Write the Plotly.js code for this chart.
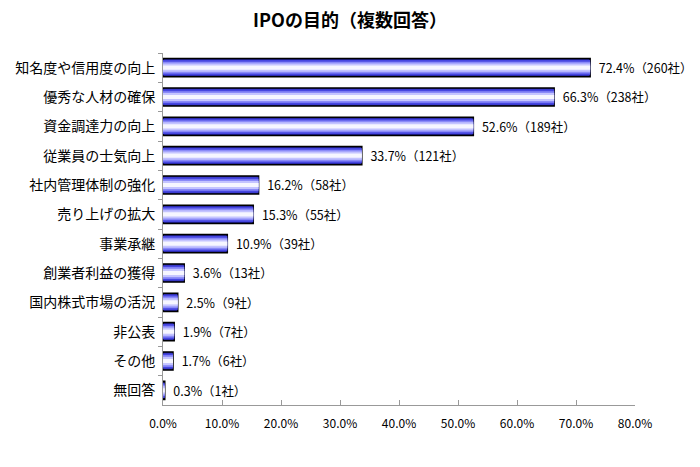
<!DOCTYPE html>
<html>
<head>
<meta charset="utf-8">
<script src="https://cdn.plot.ly/plotly-3.0.1.min.js"></script>
<style>html,body{margin:0;padding:0;background:#fff;}#chart{width:700px;height:467px;}</style>
</head>
<body>
<div id="chart"></div>
<script>
const categories = ["知名度や信用度の向上","優秀な人材の確保","資金調達力の向上","従業員の士気向上","社内管理体制の強化","売り上げの拡大","事業承継","創業者利益の獲得","国内株式市場の活況","非公表","その他","無回答"];
const percents = [72.4, 66.3, 52.6, 33.7, 16.2, 15.3, 10.9, 3.6, 2.5, 1.9, 1.7, 0.3];
const counts = [260, 238, 189, 121, 58, 55, 39, 13, 9, 7, 6, 1];
const xTickVals = [0,10,20,30,40,50,60,70,80];
const xTickText = ["0.0%","10.0%","20.0%","30.0%","40.0%","50.0%","60.0%","70.0%","80.0%"];

const labels = percents.map((p,i)=> "\u00a0\u00a0"+p.toFixed(1)+"%（"+counts[i]+"社）");
const layers = [
  {w:0.62, c:"#22229a"},
  {w:0.52, c:"#4646e0"},
  {w:0.40, c:"#8a8af8"},
  {w:0.28, c:"#c4c4ff"},
  {w:0.14, c:"#f6f6ff"}
];
const traces = layers.map((L,k)=>({
  type:"bar", orientation:"h", x:percents, y:categories, width:L.w,
  marker:{color:L.c, line:{color: k===0?"#000":L.c, width: k===0?1.5:0}},
  text: k===0?labels:undefined, textposition: k===0?"outside":"none",
  textfont:{family:"Noto Sans CJK JP", size:13, color:"#000"},
  cliponaxis:false, hoverinfo:"skip", showlegend:false
}));

Plotly.newPlot("chart", traces, {
  width:700, height:467,
  margin:{l:163, r:65, t:53, b:62},
  barmode:"overlay",
  paper_bgcolor:"#fff", plot_bgcolor:"#fff",
  title:{text:"IPOの目的（複数回答）", font:{family:"Noto Sans CJK JP", size:18, color:"#000", weight:"bold"}, x:0.5, xanchor:"center", y:0.955, yanchor:"middle"},
  font:{family:"Noto Sans CJK JP", size:12, color:"#000"},
  xaxis:{range:[0,80], tickvals:xTickVals, ticktext:xTickText, showgrid:false, zeroline:false,
    showline:true, linecolor:"#999", linewidth:1, ticks:"inside", ticklen:5, tickcolor:"#999",
    ticklabelstandoff:8, tickfont:{family:"Noto Sans CJK JP", size:12}, fixedrange:true},
  yaxis:{type:"category", autorange:"reversed", showgrid:false, zeroline:false,
    showline:true, linecolor:"#999", linewidth:1, ticks:"outside", ticklen:4, tickcolor:"#999",
    tickson:"boundaries", ticklabelstandoff:4, tickfont:{family:"Noto Sans CJK JP", size:14}, fixedrange:true}
}, {staticPlot:true});
</script>
</body>
</html>
